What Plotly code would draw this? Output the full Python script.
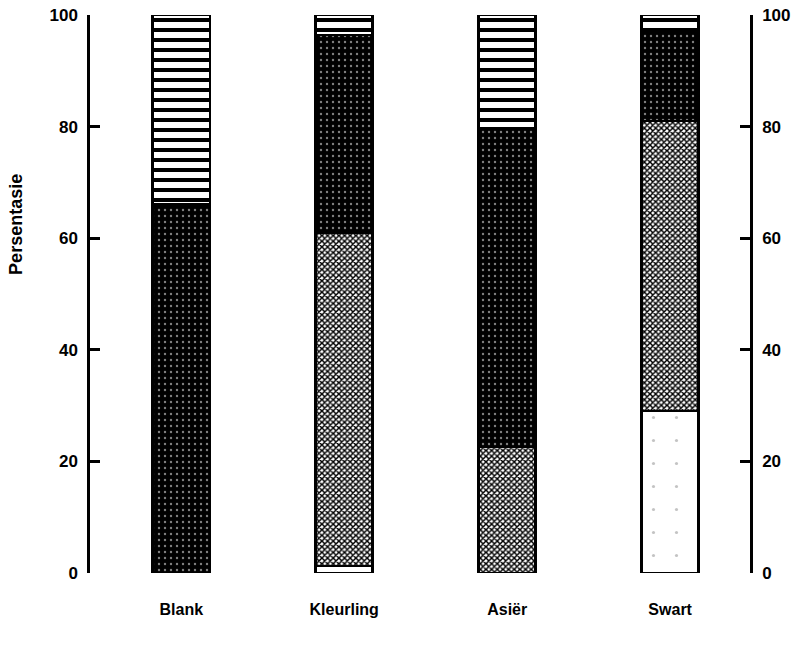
import plotly.graph_objects as go

categories = ["Blank", "Kleurling", "Asiër", "Swart"]
wit = [0, 1.3, 0, 29]          # bottom white segment
grys = [0, 59.7, 22.6, 52]      # light grey checker
donker = [66, 35.4, 57.1, 16]   # dark speckled
strepe = [34, 3.6, 20.3, 3]     # horizontally striped

y_ticks = [0, 20, 40, 60, 80, 100]
y_title = "Persentasie"

fig = go.Figure()

line = dict(color="black", width=2.5)

fig.add_trace(go.Bar(x=categories, y=wit, width=0.35,
                     marker=dict(color="white", line=line,
                                 pattern=dict(shape=".", fgcolor="#888", bgcolor="white",
                                              size=23, solidity=0.015)),
                     showlegend=False, hoverinfo="skip"))
fig.add_trace(go.Bar(x=categories, y=grys, width=0.35,
                     marker=dict(color="white", line=line,
                                 pattern=dict(shape="x", fgcolor="black", bgcolor="white",
                                              size=4, solidity=0.6, fgopacity=1)),
                     showlegend=False, hoverinfo="skip"))
fig.add_trace(go.Bar(x=categories, y=donker, width=0.35,
                     marker=dict(color="black", line=line,
                                 pattern=dict(shape=".", fgcolor="white", bgcolor="black",
                                              size=6, solidity=0.12)),
                     showlegend=False, hoverinfo="skip"))
fig.add_trace(go.Bar(x=categories, y=strepe, width=0.35,
                     marker=dict(color="white", line=line,
                                 pattern=dict(shape="-", fgcolor="black", bgcolor="white",
                                              size=10, solidity=0.4, fgopacity=1)),
                     showlegend=False, hoverinfo="skip"))
# reference trace for the right-hand axis
fig.add_trace(go.Scatter(x=categories, y=[None] * len(categories), yaxis="y2",
                         showlegend=False, hoverinfo="skip"))

fam = "Liberation Sans, Arial, sans-serif"

fig.update_layout(
    barmode="stack",
    width=799, height=653,
    margin=dict(l=90, r=49, t=15, b=80),
    paper_bgcolor="white", plot_bgcolor="white",
    font=dict(family=fam, color="black", size=16),
    xaxis=dict(range=[-0.56, 3.49], showline=False, showgrid=False, zeroline=False,
               ticks="", ticklabelstandoff=25, automargin=False,
               tickfont=dict(size=16, family=fam, weight="bold")),
    yaxis=dict(range=[0, 100], tickvals=y_ticks, showgrid=False, zeroline=False,
               showline=True, linecolor="black", linewidth=2.5, automargin=False,
               ticks="inside", ticklen=10, tickwidth=2.5, tickcolor="black",
               ticklabelstandoff=6, ticklabeloverflow="allow",
               tickfont=dict(size=17, weight="bold")),
    yaxis2=dict(range=[0, 100], tickvals=y_ticks, overlaying="y", side="right",
                showgrid=False, zeroline=False, automargin=False,
                showline=True, linecolor="black", linewidth=2.5,
                ticks="inside", ticklen=10, tickwidth=2.5, tickcolor="black",
                ticklabelstandoff=6, ticklabeloverflow="allow",
                tickfont=dict(size=17, weight="bold")),
    annotations=[dict(text=y_title, xref="paper", yref="paper", x=-0.112, y=0.624,
                      xanchor="center", yanchor="middle", textangle=-90, showarrow=False,
                      font=dict(size=18, weight="bold", family=fam))],
)

fig.write_html("out.html", config={"displayModeBar": False},
               post_script="document.body.style.margin='0';")
